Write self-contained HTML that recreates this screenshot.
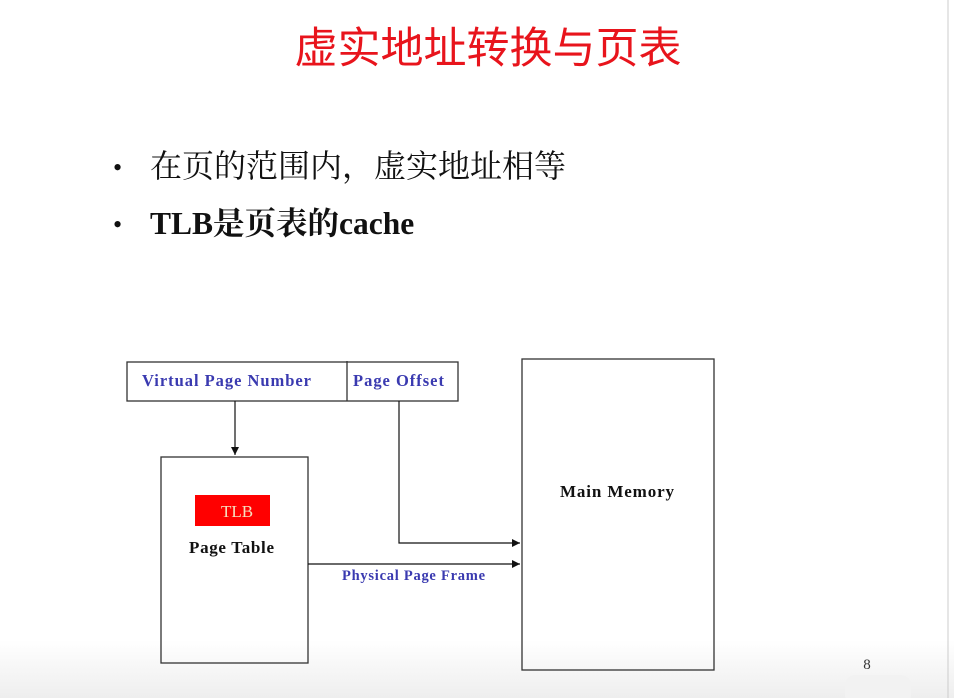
<!DOCTYPE html>
<html><head><meta charset="utf-8"><style>
html,body{margin:0;padding:0;background:#fff;}
svg{display:block;}
</style></head><body>
<svg width="954" height="698" viewBox="0 0 954 698" xmlns="http://www.w3.org/2000/svg">
<defs>
<marker id="a" markerWidth="8" markerHeight="8" refX="8" refY="4" orient="auto" markerUnits="userSpaceOnUse"><path d="M0,0 L8,4 L0,8 z" fill="#111"/></marker>
<linearGradient id="g" x1="0" y1="0" x2="0" y2="1"><stop offset="0" stop-color="#fff"/><stop offset="1" stop-color="#eee"/></linearGradient>
</defs>
<rect width="954" height="698" fill="#fff"/>
<rect x="0" y="640" width="954" height="58" fill="url(#g)"/>
<line x1="948" y1="0" x2="948" y2="698" stroke="#ccc" stroke-width="1"/>
<text x="488" y="63" text-anchor="middle" font-family="'Noto Sans CJK SC',sans-serif" font-size="43" fill="#e8141c">虚实地址转换与页表</text>
<text x="113" y="176" font-family="'Liberation Serif',serif" font-size="26" fill="#111">•</text>
<text x="150" y="177" font-family="'Noto Serif CJK SC',serif" font-size="32" fill="#111">在页的范围内，虚实地址相等</text>
<text x="113" y="233" font-family="'Liberation Serif',serif" font-size="26" fill="#111">•</text>
<text x="150" y="234" font-family="'Liberation Serif','Noto Serif CJK SC',serif" font-size="31.5" font-weight="bold" fill="#111">TLB是页表的cache</text>
<g stroke="#333" stroke-width="1.3" fill="none">
<rect x="127" y="362" width="331" height="39"/>
<line x1="347" y1="361" x2="347" y2="401"/>
<rect x="161" y="457" width="147" height="206"/>
<rect x="522" y="359" width="192" height="311"/>
</g>
<g stroke="#111" stroke-width="1.2" fill="none">
<line x1="235" y1="401" x2="235" y2="455" marker-end="url(#a)"/>
<polyline points="399,401 399,543 520,543" marker-end="url(#a)"/>
<line x1="308" y1="564" x2="520" y2="564" marker-end="url(#a)"/>
</g>
<g font-family="'Liberation Serif',serif" font-weight="bold">
<text x="142" y="386" font-size="16.5" fill="#3a3ab0" textLength="169">Virtual Page Number</text>
<text x="353" y="386" font-size="16.5" fill="#3a3ab0" textLength="91">Page Offset</text>
<text x="342" y="580" font-size="14.5" fill="#3a3ab0" textLength="143">Physical Page Frame</text>
<text x="189" y="553" font-size="17" fill="#111" textLength="85">Page Table</text>
<text x="560" y="497" font-size="17" fill="#111" textLength="114">Main Memory</text>
</g>
<rect x="195" y="495" width="75" height="31" fill="#f00"/>
<text x="237" y="517" font-family="'Liberation Serif',serif" font-size="17" fill="#f5e0c0" text-anchor="middle">TLB</text>
<text x="867" y="669" font-family="'Liberation Serif',serif" font-size="15" fill="#333" text-anchor="middle">8</text>
<rect x="845" y="675" width="66" height="30" rx="10" fill="#f2f2f2"/>
</svg>
</body></html>
